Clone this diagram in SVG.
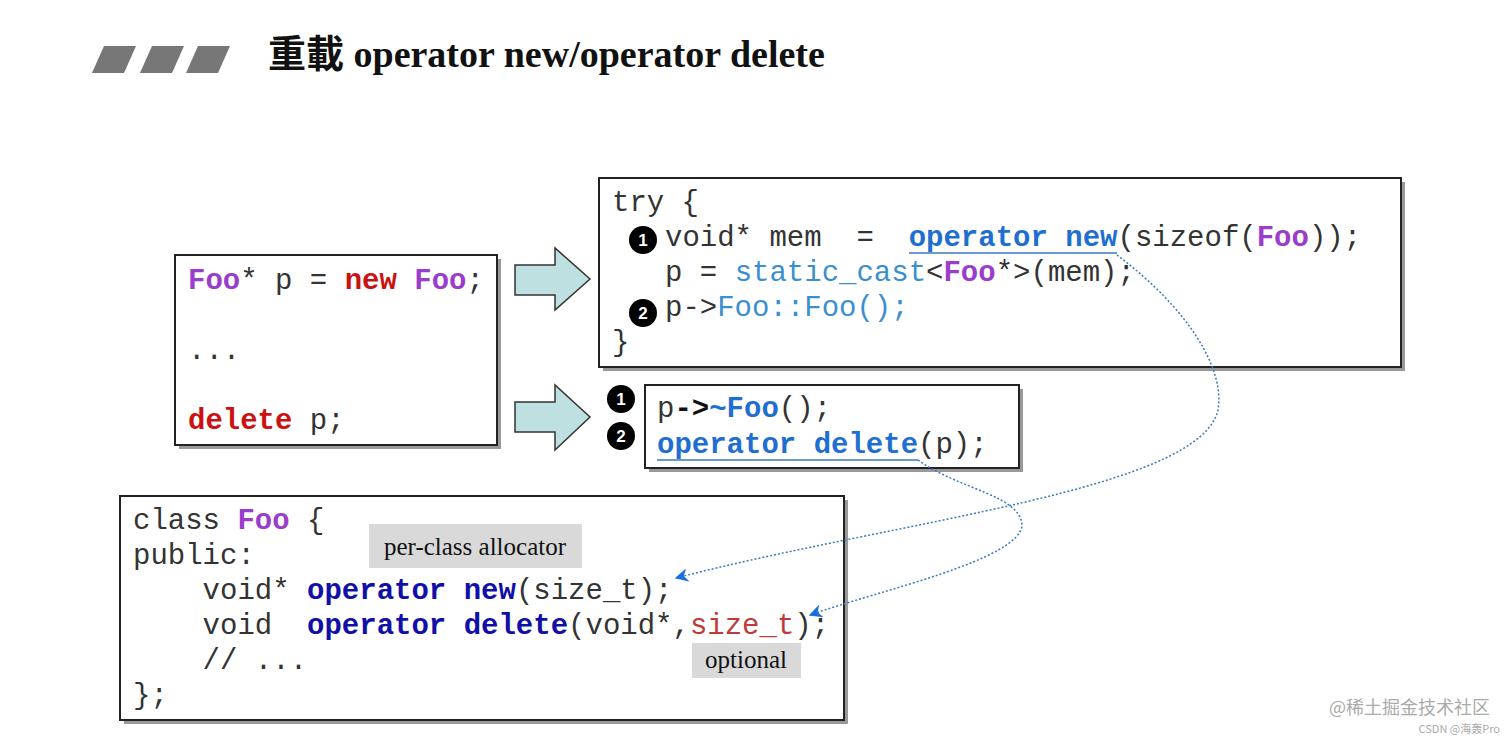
<svg xmlns="http://www.w3.org/2000/svg" width="1512" height="740" viewBox="0 0 1512 740">
<defs>
<style>
.c{font-family:"Liberation Mono","DejaVu Sans Mono",monospace;font-size:29px;fill:#333;white-space:pre}
.b{font-weight:bold}
.pu{fill:#9a3ccc;font-weight:bold}
.rd{fill:#cc1111;font-weight:bold}
.bl{fill:#1f6fd0;font-weight:bold}
.db{fill:#1010a8;font-weight:bold}
.lb{fill:#3a8fd0}
.st{fill:#c03a3a}
.box{fill:#fff;stroke:#222;stroke-width:2}
.sh{fill:#999}
.lbl{font-family:"Liberation Serif",serif;font-size:25px;fill:#111}
.bd{fill:#000}
.bt{font-family:"Liberation Sans",sans-serif;font-size:17px;fill:#fff;font-weight:bold;text-anchor:middle}
.ar{fill:#bfe0e0;stroke:#333;stroke-width:1.5}
.dot{fill:none;stroke:#3a78c0;stroke-width:1.5;stroke-dasharray:2 2}
</style>
<marker id="ah" viewBox="0 0 10 10" refX="9" refY="5" markerWidth="9" markerHeight="9" orient="auto"><path d="M0,0 L10,5 L0,10 L3,5z" fill="#1a6fe0"/></marker>
</defs>
<g id="title">
<polygon points="104,46 136,46 124,73 92,73" fill="#777"/>
<polygon points="152,46 184,46 172,73 140,73" fill="#777"/>
<polygon points="198,46 230,46 218,73 186,73" fill="#777"/>
<text x="268" y="67" font-family="'Liberation Serif','Noto Sans CJK TC',serif" font-size="38" font-weight="bold" fill="#111">重載 operator new/operator delete</text>
</g>
<g id="expr">
<rect class="sh" x="179" y="259" width="322" height="190"/>
<rect class="box" x="175" y="255" width="322" height="190"/>
<text class="c" x="188" y="289"><tspan class="pu">Foo</tspan>* p = <tspan class="rd">new</tspan> <tspan class="pu">Foo</tspan>;</text>
<text class="c" x="188" y="359">...</text>
<text class="c" x="188" y="429"><tspan class="rd">delete</tspan> p;</text>
</g>
<g id="arrow1"><polygon class="ar" points="515,265 555,265 555,248 590,279 555,310 555,295 515,295"/></g>
<g id="arrow2"><polygon class="ar" points="515,402 555,402 555,385 590,417 555,450 555,432 515,432"/></g>
<g id="try">
<rect class="sh" x="603" y="182" width="802" height="189"/>
<rect class="box" x="599" y="178" width="802" height="189"/>
<text class="c" x="612" y="211">try {</text>
<text class="c" x="665" y="246">void* mem  =  <tspan class="bl">operator new</tspan>(sizeof(<tspan class="pu">Foo</tspan>));</text>
<text class="c" x="665" y="281">p = <tspan class="lb">static_cast</tspan>&lt;<tspan class="pu">Foo</tspan>*&gt;(mem);</text>
<text class="c" x="665" y="316">p-&gt;<tspan class="lb">Foo::Foo();</tspan></text>
<text class="c" x="612" y="351">}</text>
<line x1="909" y1="253" x2="1117" y2="253" stroke="#3a78c0" stroke-width="1.5"/>
<circle class="bd" cx="643" cy="240" r="14"/><text class="bt" x="643" y="246">1</text>
<circle class="bd" cx="643" cy="313" r="14"/><text class="bt" x="643" y="319">2</text>
</g>
<g id="del">
<rect class="sh" x="649" y="389" width="374" height="83"/>
<rect class="box" x="645" y="385" width="374" height="83"/>
<text class="c" x="657" y="417">p<tspan class="b" fill="#111">-&gt;</tspan><tspan class="bl">~Foo</tspan>();</text>
<text class="c" x="657" y="453"><tspan class="bl">operator delete</tspan>(p);</text>
<line x1="657" y1="460" x2="918" y2="460" stroke="#3a78c0" stroke-width="1.5"/>
<circle class="bd" cx="621" cy="399" r="14"/><text class="bt" x="621" y="405">1</text>
<circle class="bd" cx="621" cy="436" r="14"/><text class="bt" x="621" y="442">2</text>
</g>
<g id="cls">
<rect class="sh" x="124" y="500" width="724" height="224"/>
<rect class="box" x="120" y="496" width="724" height="224"/>
<text class="c" x="133" y="529">class <tspan class="pu">Foo</tspan> {</text>
<text class="c" x="133" y="564">public:</text>
<text class="c" x="133" y="599">    void* <tspan class="db">operator new</tspan>(size_t);</text>
<text class="c" x="133" y="634">    void  <tspan class="db">operator delete</tspan>(void*,<tspan class="st">size_t</tspan>);</text>
<text class="c" x="133" y="669">    // ...</text>
<text class="c" x="133" y="704">};</text>
</g>
<g id="lbl1"><rect x="369" y="524" width="213" height="44" fill="#d9d9d9"/><text class="lbl" x="475" y="555" text-anchor="middle">per-class allocator</text></g>
<g id="lbl2"><rect x="692" y="643" width="109" height="35" fill="#d9d9d9"/><text class="lbl" x="746" y="668" text-anchor="middle">optional</text></g>
<g id="connectors">
<path class="dot" d="M1117,255 C1190,310 1225,370 1218,410 C1200,490 900,520 676,578" marker-end="url(#ah)"/>
<path class="dot" d="M918,460 C960,490 1020,495 1022,525 C1020,560 880,590 810,615" marker-end="url(#ah)"/>
</g>
<g id="wm">
<text x="1490" y="714" text-anchor="end" font-family="'Noto Sans CJK SC',sans-serif" font-size="18" fill="#aaa">@稀土掘金技术社区</text>
<text x="1500" y="733" text-anchor="end" font-family="'Noto Sans CJK SC',sans-serif" font-size="11" fill="#aaa">CSDN @海轰Pro</text>
</g>
</svg>
